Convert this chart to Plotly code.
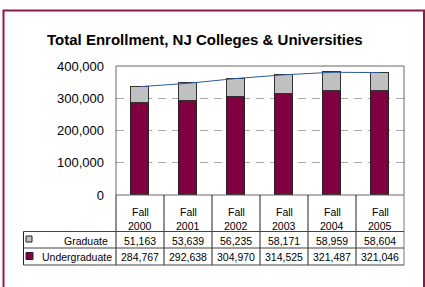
import plotly.graph_objects as go

years = ["2000", "2001", "2002", "2003", "2004", "2005"]
graduate = [51163, 53639, 56235, 58171, 58959, 58604]
undergraduate = [284767, 292638, 304970, 314525, 321487, 321046]
series_names = ["Graduate", "Undergraduate"]
title_text = "Total Enrollment, NJ Colleges & Universities"

W, H = 425, 287
FONT = "Liberation Sans, Arial, Helvetica, sans-serif"
MAROON = "#800040"
GRAY = "#c0c0c0"

def px(x):
    return x / W

def py(y):
    return 1 - y / H

PL, PR, PT, PB = 116, 404, 66, 195
n = len(years)
xs = list(range(n))
totals = [g + u for g, u in zip(graduate, undergraduate)]

fig = go.Figure()
fig.add_trace(go.Bar(x=xs, y=undergraduate, name=series_names[1], marker=dict(color=MAROON, line=dict(color="#222", width=1)), width=0.39))
fig.add_trace(go.Bar(x=xs, y=graduate, name=series_names[0], marker=dict(color=GRAY, line=dict(color="#333", width=1)), width=0.39))
fig.add_trace(go.Scatter(x=xs, y=totals, mode="lines", line=dict(color="#2a5a9a", width=1), hoverinfo="skip"))

shapes = []
ann = []
# outer frame
shapes.append(dict(type="rect", xref="paper", yref="paper", x0=px(3.5), x1=px(424), y0=py(289), y1=py(10.5),
                   line=dict(color="#8b1a4b", width=2), layer="below"))
# plot frame
shapes.append(dict(type="rect", xref="paper", yref="paper", x0=px(PL), x1=px(PR), y0=py(PB), y1=py(PT),
                   line=dict(color="#666", width=1)))
# table lines
TT, TM, TB, TL = 231.5, 248, 265, 23.5
for k in range(n + 1):
    xk = PL + k * (PR - PL) / n
    shapes.append(dict(type="line", xref="paper", yref="paper", x0=px(xk), x1=px(xk), y0=py(PB), y1=py(TB),
                       line=dict(color="#222" if k < n else "#777", width=1)))
shapes.append(dict(type="line", xref="paper", yref="paper", x0=px(TL), x1=px(TL), y0=py(TT), y1=py(TB), line=dict(color="#222", width=1)))
for yy in (TT, TM, TB):
    shapes.append(dict(type="line", xref="paper", yref="paper", x0=px(TL), x1=px(PR), y0=py(yy), y1=py(yy), line=dict(color="#444", width=1)))
# legend keys
shapes.append(dict(type="rect", xref="paper", yref="paper", x0=px(26), x1=px(32), y0=py(242), y1=py(236), fillcolor=GRAY, line=dict(color="#222", width=1)))
shapes.append(dict(type="rect", xref="paper", yref="paper", x0=px(26), x1=px(33), y0=py(259.5), y1=py(252.5), fillcolor=MAROON, line=dict(color="#222", width=1)))

tf = dict(family=FONT, size=10.5, color="#000")

def add_text(x, y, text, xref="paper", xanchor="center", font=tf):
    ann.append(dict(x=x, xref=xref, y=py(y), yref="paper", text=text, showarrow=False, font=font,
                    xanchor=xanchor, yanchor="middle"))

for i, yr in enumerate(years):
    add_text(i, 211.5, "Fall", xref="x")
    add_text(i, 226, yr, xref="x")
    add_text(i, 240.5, f"{graduate[i]:,}", xref="x")
    add_text(i, 256.5, f"{undergraduate[i]:,}", xref="x")
add_text(px(110), 240.5, series_names[0], xanchor="right")
add_text(px(40), 256.5, series_names[1], xanchor="left")
add_text(px(204.5), 40, "<b>" + title_text + "</b>", font=dict(family=FONT, size=15, color="#000"))

fig.update_layout(
    width=W, height=H, margin=dict(l=0, r=0, t=0, b=0, pad=0, autoexpand=False),
    paper_bgcolor="white", plot_bgcolor="white",
    barmode="stack", bargap=0, showlegend=False,
    shapes=shapes, annotations=ann,
    xaxis=dict(domain=[px(PL), px(PR)], range=[-0.5, n - 0.5], showticklabels=False, showgrid=False, zeroline=False,
               fixedrange=True, automargin=False),
    yaxis=dict(domain=[py(PB), py(PT)], range=[0, 400000], tickvals=[0, 100000, 200000, 300000, 400000],
               tickformat=",", tickfont=dict(family=FONT, size=13, color="#000"), ticklabelstandoff=11,
               showgrid=True, gridcolor="#a8a8a8", griddash="8px,6px", gridwidth=1, zeroline=False,
               fixedrange=True, automargin=False),
    font=dict(family=FONT),
)
fig.write_html("out.html", config={"displayModeBar": False},
               post_script="document.body.style.margin='0';document.body.style.overflow='hidden';")
